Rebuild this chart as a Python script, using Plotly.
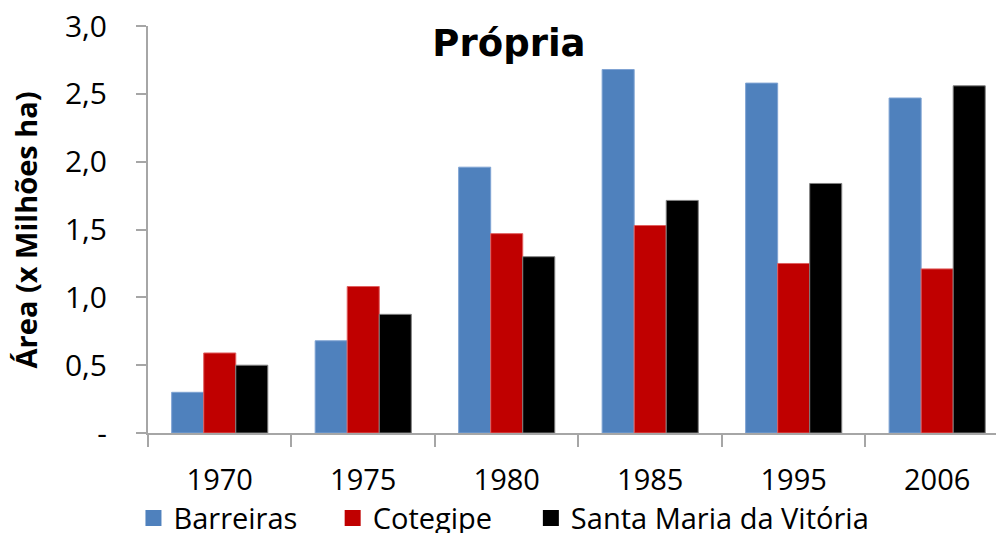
import plotly.graph_objects as go

anos = ['1970', '1975', '1980', '1985', '1995', '2006']
barreiras = [0.30, 0.68, 1.96, 2.68, 2.58, 2.47]
cotegipe = [0.59, 1.08, 1.47, 1.53, 1.25, 1.21]
santa_maria = [0.50, 0.875, 1.30, 1.715, 1.84, 2.56]

y_ticks = [0, 0.5, 1.0, 1.5, 2.0, 2.5, 3.0]
y_labels = ['-', '0,5', '1,0', '1,5', '2,0', '2,5', '3,0']

series = [
    ('Barreiras', barreiras, '#4f81bd', '#7fa3d3', 'legend', 0.134),
    ('Cotegipe', cotegipe, '#c00000', '#e06060', 'legend2', 0.334),
    ('Santa Maria da Vitória', santa_maria, '#000000', '#808080', 'legend3', 0.533),
]

FONT = 'Open Sans, sans-serif'

fig = go.Figure()
for nome, vals, cor, borda, leg, lx in series:
    fig.add_trace(go.Bar(x=anos, y=vals, name=nome, showlegend=False,
                         marker=dict(color=cor, line=dict(width=1, color=borda))))

# one legend per entry so each square sits where the original has it
legends = {}
for nome, vals, cor, borda, leg, lx in series:
    fig.add_trace(go.Scatter(x=[None], y=[None], mode='markers', name=nome, legend=leg,
                             marker=dict(symbol='square', size=22, color=cor)))
    legends[leg] = dict(orientation='h', xref='container', yref='container',
                        x=lx, xanchor='left', y=0.028, yanchor='middle',
                        font=dict(family=FONT, size=29, color='black'),
                        bgcolor='rgba(0,0,0,0)', itemsizing='trace')

fig.update_layout(
    width=996, height=533,
    margin=dict(l=148, r=0, t=26, b=100, autoexpand=False),
    paper_bgcolor='white', plot_bgcolor='white',
    barmode='group', bargap=0.33, bargroupgap=0,
    font=dict(family=FONT, size=29, color='black'),
    title=dict(text='<b>Própria</b>', x=0.511, xanchor='center', xref='container',
               y=0.919, yanchor='middle', yref='container',
               font=dict(family='DejaVu Sans', size=37, color='black')),
    xaxis=dict(type='category', range=[-0.5, 5.41], tickson='boundaries',
               ticks='outside', ticklen=12, tickcolor='#a6a6a6', tickwidth=2,
               showline=True, linecolor='#a6a6a6', linewidth=2,
               showgrid=False, ticklabelstandoff=20, automargin=False,
               tickfont=dict(size=29)),
    yaxis=dict(range=[0, 3.001], tickvals=y_ticks, ticktext=y_labels,
               ticks='outside', ticklen=10, tickcolor='#a6a6a6', tickwidth=2,
               showline=True, linecolor='#a6a6a6', linewidth=2,
               showgrid=False, zeroline=False, ticklabelstandoff=23,
               automargin=False, tickfont=dict(size=30)),
    **legends,
)

fig.add_annotation(text='<b>Área (x Milhões ha)</b>', textangle=-90,
                   xref='paper', yref='paper', x=-0.144, y=0.5,
                   xanchor='center', yanchor='middle', showarrow=False,
                   font=dict(family=FONT, size=29, color='black'))

# drop the browser's default body margin so the figure starts at the corner
fig.write_html('out.html', config={'displayModeBar': False},
               post_script="document.body.style.margin='0';")
